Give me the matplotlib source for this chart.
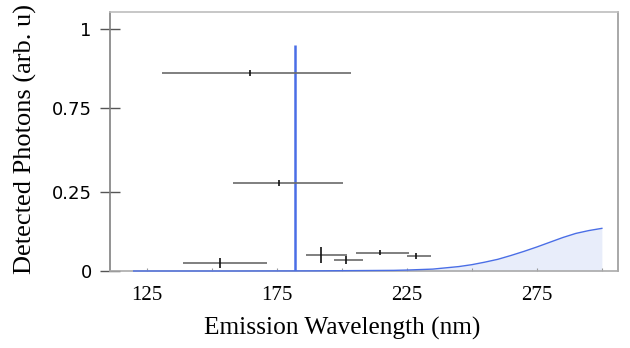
import numpy as np
import matplotlib
matplotlib.use("Agg")
import matplotlib.pyplot as plt

# ---- data ----
spec_wl = [120, 130, 140, 150, 160, 170, 180, 190, 200, 210, 220, 225, 230, 235, 240,
           245, 250, 255, 260, 265, 270, 275, 280, 285, 290, 295, 300]
spec_val = [0, 0, 0, 0, 0, 0.0002, 0.0003, 0.0005, 0.001, 0.0015, 0.002, 0.003, 0.0045,
            0.006, 0.010, 0.014, 0.020, 0.028, 0.037, 0.049, 0.062, 0.076, 0.091, 0.106,
            0.119, 0.128, 0.135]
spike_wl = 182.0
spike_height = 0.95

pt_x = [164.7, 176.0, 153.2, 192.0, 201.8, 214.6, 228.7]
pt_xlo = [130.8, 158.3, 139.0, 186.4, 196.9, 205.3, 224.9]
pt_xhi = [203.6, 200.4, 171.3, 202.0, 208.2, 225.9, 234.5]
pt_y = [0.862, 0.305, 0.025, 0.051, 0.035, 0.058, 0.048]
pt_yerr = [0.009, 0.018, 0.017, 0.026, 0.014, 0.008, 0.009]

x_ticks = [125, 150, 175, 200, 225, 250, 275, 300]
x_ticklabels = ["125", "", "175", "", "225", "", "275", ""]
y_ticks = [0, 0.25, 0.75, 1]
y_ticklabels = ["0", "0.25", "0.75", "1"]

# piecewise-linear y axis (equal spacing between irregular tick values)
pv = np.array([0, 0.25, 0.75, 1.0])
pm = np.array([0, 79, 163, 242.0])
s0 = 316.0

def fwd(y):
    y = np.asarray(y, float)
    return np.where(y < 0, y * s0, np.where(y > 1, 242 + (y - 1) * s0, np.interp(y, pv, pm)))

def inv(m):
    m = np.asarray(m, float)
    return np.where(m < 0, m / s0, np.where(m > 242, 1 + (m - 242) / s0, np.interp(m, pm, pv)))

fig = plt.figure(figsize=(6.3, 3.48), dpi=100)
ax = fig.add_axes([110 / 630, 1 - 271 / 348, 508 / 630, 259 / 348])
ax.set_yscale('function', functions=(fwd, inv))

blue = '#4a6ee6'
ax.fill_between(spec_wl, 0, spec_val, color='#e8edfa', lw=0, zorder=1)
ax.plot(spec_wl, spec_val, color=blue, lw=1.0, zorder=3, clip_on=False)
ax.vlines([spike_wl], 0, [spike_height], color=blue, lw=1.8, zorder=3)

xerr = [np.array(pt_x) - np.array(pt_xlo), np.array(pt_xhi) - np.array(pt_x)]
ax.errorbar(pt_x, pt_y, xerr=xerr, fmt='none', ecolor='#6a6a6a', elinewidth=1.2, capsize=0, zorder=4)
ax.errorbar(pt_x, pt_y, yerr=pt_yerr, fmt='none', ecolor='#111111', elinewidth=1.2, capsize=0, zorder=5)

ax.set_xlim(110.9, 306.2)
ax.set_ylim(0, 1.054)

ax.set_xticks(x_ticks)
ax.set_xticklabels(x_ticklabels, family='Liberation Serif', fontsize=15)
ax.set_yticks(y_ticks)
ax.set_yticklabels(y_ticklabels, family='DejaVu Sans', fontsize=13)
ax.minorticks_off()

ax.tick_params(axis='x', direction='in', length=2.5, width=0.8, color='#999999', pad=11)
ax.tick_params(axis='y', direction='inout', length=14.4, width=1.0, color='#555555', pad=6)

for side, c in [('left', '#808080'), ('top', '#bdbdbd'), ('right', '#9a9a9a'), ('bottom', '#aaaaaa')]:
    ax.spines[side].set_color(c)
    ax.spines[side].set_linewidth(1.2)

ax.set_xlabel('Emission Wavelength (nm)', family='Liberation Serif', fontsize=18.3)
ax.set_ylabel('Detected Photons (arb. u)', family='Liberation Serif', fontsize=19)
ax.xaxis.set_label_coords(0.457, -0.22)
ax.xaxis.label.set_va('center')
ax.yaxis.set_label_coords(-0.167, 0.51)
ax.yaxis.label.set_va('center')

fig.savefig('out.png', dpi=100)
